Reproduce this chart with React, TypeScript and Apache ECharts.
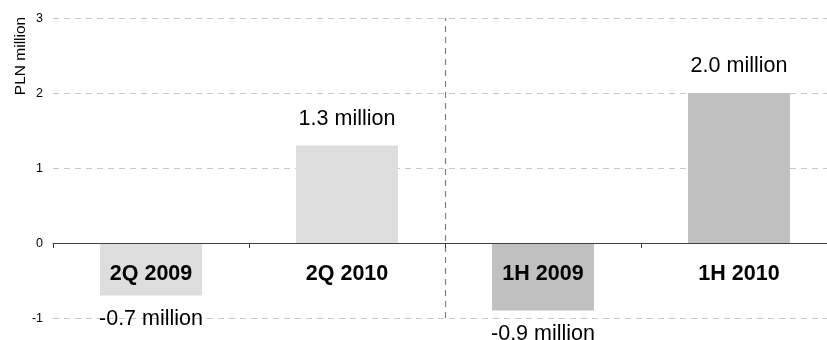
import React, { useEffect, useRef } from "react";
import * as echarts from "echarts";

const categories = ["2Q 2009", "2Q 2010", "1H 2009", "1H 2010"];
const values = [-0.7, 1.3, -0.9, 2.0];
const barColors = ["#dddddd", "#dddddd", "#c0c0c0", "#c0c0c0"];
const yTicks = [-1, 0, 1, 2, 3];
const yAxisTitle = "PLN million";
const dividerPosition = 2; // boundary between 2Q and 1H groups (in category units)

export default function App() {
  const ref = useRef<HTMLDivElement>(null);
  useEffect(() => {
    if (!ref.current) return;
    const chart = echarts.init(ref.current, undefined, { renderer: "svg" });
    chart.setOption({
      animation: false,
      textStyle: { fontFamily: "Liberation Sans, Arial, sans-serif" },
      grid: { left: 53, right: -10, top: 18, bottom: 22, outerBoundsMode: "none", containLabel: false },
      graphic: [
        {
          type: "text",
          x: 19,
          y: 56,
          rotation: Math.PI / 2,
          style: {
            text: yAxisTitle,
            fontSize: 15.5,
            fill: "#000",
            align: "center",
            verticalAlign: "middle",
            fontFamily: "Liberation Sans, Arial, sans-serif",
          },
        },
      ],
      xAxis: [
        {
          type: "category",
          data: categories,
          offset: -75,
          axisLine: { onZero: false, lineStyle: { color: "#404040", width: 1 } },
          axisTick: { show: true, length: 5, inside: false, lineStyle: { color: "#404040" } },
          axisLabel: {
            fontSize: 21.5,
            fontWeight: "bold",
            color: "#000",
            margin: 19,
          },
          splitLine: { show: false },
          z: 5,
        },
        {
          type: "value",
          min: 0,
          max: categories.length,
          show: false,
        },
      ],
      yAxis: {
        type: "value",
        min: yTicks[0],
        max: yTicks[yTicks.length - 1],
        interval: 1,
        axisLine: { show: false },
        axisTick: { show: false },
        axisLabel: { fontSize: 12.5, color: "#000", margin: 10 },
        splitLine: { lineStyle: { color: "#c8c8c8", type: [6, 5] } },
      },
      series: [
        {
          type: "bar",
          barWidth: "52%",
          xAxisIndex: 0,
          z: 2,
          data: values.map((v, i) => ({
            value: v,
            itemStyle: { color: barColors[i] },
            label: {
              show: true,
              position: v >= 0 ? "top" : "bottom",
              distance: v >= 0 ? 17 : 11,
              fontSize: 21.5,
              color: "#000",
              formatter: (p: any) => `${Number(p.value).toFixed(1)} million`,
            },
          })),
        },
        {
          type: "line",
          xAxisIndex: 1,
          data: [],
          silent: true,
          markLine: {
            silent: true,
            symbol: "none",
            label: { show: false },
            lineStyle: { color: "#808080", type: [6, 5], width: 1.2 },
            data: [[{ coord: [dividerPosition, yTicks[0]] }, { coord: [dividerPosition, yTicks[yTicks.length - 1]] }]],
          },
        },
      ],
    });
    return () => chart.dispose();
  }, []);
  return (
    <div
      ref={ref}
      style={{ position: "fixed", left: 0, top: 0, width: 827, height: 340 }}
    />
  );
}
